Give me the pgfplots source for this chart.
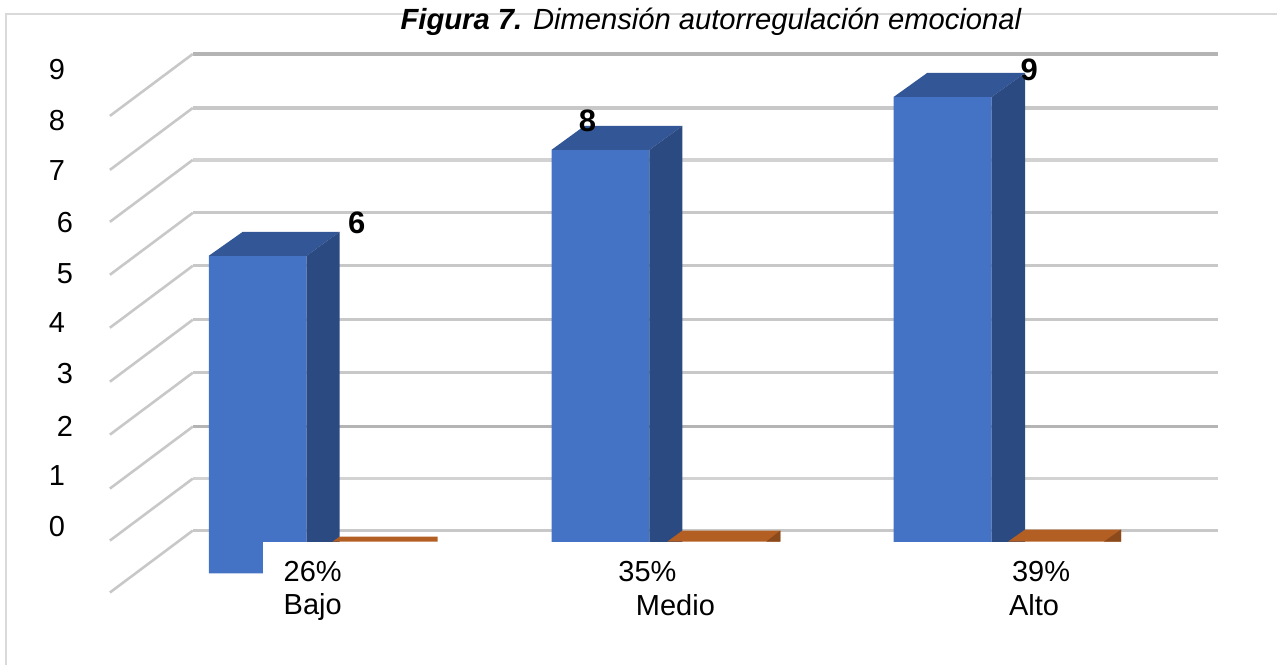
\documentclass[border=0pt]{standalone}
\usepackage{pgfplots}
\pgfplotsset{compat=1.18}
\usepackage{fontspec}
\setmainfont{Liberation Sans}
\definecolor{gridc}{HTML}{C8C8C8}
\definecolor{gridd}{HTML}{B4B4B4}
\definecolor{gridl}{HTML}{D2D2D2}
\definecolor{framec}{HTML}{D9D9D9}
\definecolor{bluef}{HTML}{4472C4}
\definecolor{bluet}{HTML}{335796}
\definecolor{blues}{HTML}{2B4A81}
\definecolor{orf}{HTML}{B35F23}
\definecolor{ord}{HTML}{8B4A1C}
\newcommand{\ly}[3]{\node[font=\fontsize{29}{33}\selectfont, inner sep=0pt] at (axis cs:#1,{(574-#2)/53}) {#3};}
\newcommand{\lb}[3]{\node[font=\fontsize{31}{35}\selectfont\bfseries, inner sep=0pt] at (axis cs:#1,{(574-#2)/53}) {#3};}
\begin{document}
\begin{tikzpicture}
\begin{axis}[
  scale only axis, width=1278pt, height=666pt,
  xmin=0, xmax=1278, ymin=-1.736, ymax=10.83,
  axis lines=none, clip=false,
  bar width=98pt,
  every axis plot/.append style={forget plot},
]
% full extent of the picture
\addplot[draw=none] coordinates {(0,-1.736)(1278,-1.736)(1278,10.83)(0,10.83)};
% frame
\addplot[framec, line width=2.2pt] coordinates {(6,-1.736)(6,10.566)(1278,10.566)};
% gridlines
\pgfplotsinvokeforeach{8.792,6.811,5.811,4.792,3.792,0.811}{
  \addplot[gridc, line width=3.2pt] coordinates {(1219,#1)(193,#1)};
}
\addplot[gridd, line width=3.2pt] coordinates {(1219,9.811)(193,9.811)};
\addplot[gridd, line width=3.2pt] coordinates {(1219,2.774)(193,2.774)};
\addplot[gridl, line width=3.4pt] coordinates {(1219,7.811)(193,7.811)};
\addplot[gridl, line width=3.4pt] coordinates {(1219,1.792)(193,1.792)};
\addplot[gridc, line width=2.6pt] coordinates {(193,9.811)(110,8.641)};
\addplot[gridc, line width=2.6pt] coordinates {(193,8.792)(110,7.622)};
\addplot[gridc, line width=2.6pt] coordinates {(193,7.811)(110,6.641)};
\addplot[gridc, line width=2.6pt] coordinates {(193,6.811)(110,5.641)};
\addplot[gridc, line width=2.6pt] coordinates {(193,5.811)(110,4.641)};
\addplot[gridc, line width=2.6pt] coordinates {(193,4.792)(110,3.622)};
\addplot[gridc, line width=2.6pt] coordinates {(193,3.792)(110,2.622)};
\addplot[gridc, line width=2.6pt] coordinates {(193,2.774)(110,1.604)};
\addplot[gridc, line width=2.6pt] coordinates {(193,1.792)(110,0.622)};
\addplot[gridc, line width=2.6pt] coordinates {(193,0.811)(110,-0.359)};
% blue bars: front faces
\addplot[ybar, fill=bluef, draw=none] coordinates {(258,6)(601,8)(943.5,9)};
% top faces
\addplot[fill=bluet, draw=none] coordinates {(209,6)(307,6)(340,6.453)(243,6.453)} -- cycle;
\addplot[fill=bluet, draw=none] coordinates {(552,8)(650,8)(683,8.453)(585,8.453)} -- cycle;
\addplot[fill=bluet, draw=none] coordinates {(894.5,9)(992.5,9)(1026,9.453)(928,9.453)} -- cycle;
% side faces
\addplot[fill=blues, draw=none] coordinates {(307,6)(340,6.453)(340,0.453)(307,0)} -- cycle;
\addplot[fill=blues, draw=none] coordinates {(650,8)(683,8.453)(683,0.453)(650,0)} -- cycle;
\addplot[fill=blues, draw=none] coordinates {(992.5,9)(1026,9.453)(1026,0.453)(992.5,0)} -- cycle;
% orange bars (value near zero)
\addplot[fill=orf, draw=none] coordinates {(333,0.604)(340,0.698)(438,0.698)(438,0.604)} -- cycle;
\addplot[fill=orf, draw=none] coordinates {(668,0.604)(683,0.811)(781,0.811)(781,0.604)} -- cycle;
\addplot[fill=orf, draw=none] coordinates {(1009,0.604)(1026,0.830)(1122,0.830)(1122,0.604)} -- cycle;
\addplot[fill=ord, draw=none] coordinates {(767,0.604)(781,0.811)(781,0.604)} -- cycle;
\addplot[fill=ord, draw=none] coordinates {(1105,0.604)(1122,0.830)(1122,0.604)} -- cycle;
% white patch below
\addplot[fill=white, draw=none] coordinates {(263,-1.736)(263,0.604)(1278,0.604)(1278,-1.736)} -- cycle;
% y labels
\ly{57}{70}{9}
\ly{57}{121}{8}
\ly{57}{171}{7}
\ly{65}{223}{6}
\ly{65}{274}{5}
\ly{57}{323}{4}
\ly{65}{374}{3}
\ly{65}{427}{2}
\ly{57}{476}{1}
\ly{57}{527}{0}
% data labels
\lb{357}{223}{6}
\lb{588}{121}{8}
\lb{1030}{70}{9}
% x labels
\ly{313}{572}{26\%}
\ly{313}{608}{Bajo}
\ly{648}{572}{35\%}
\ly{676}{606}{Medio}
\ly{1042}{572}{39\%}
\ly{1035}{606}{Alto}
% title
\node[font=\fontsize{29.2}{33}\selectfont\itshape, inner sep=0pt, anchor=base] at (axis cs:711.5,{(574-30)/53}) {\textbf{Figura 7.} Dimensión autorregulación emocional};
\end{axis}
\end{tikzpicture}
\end{document}
